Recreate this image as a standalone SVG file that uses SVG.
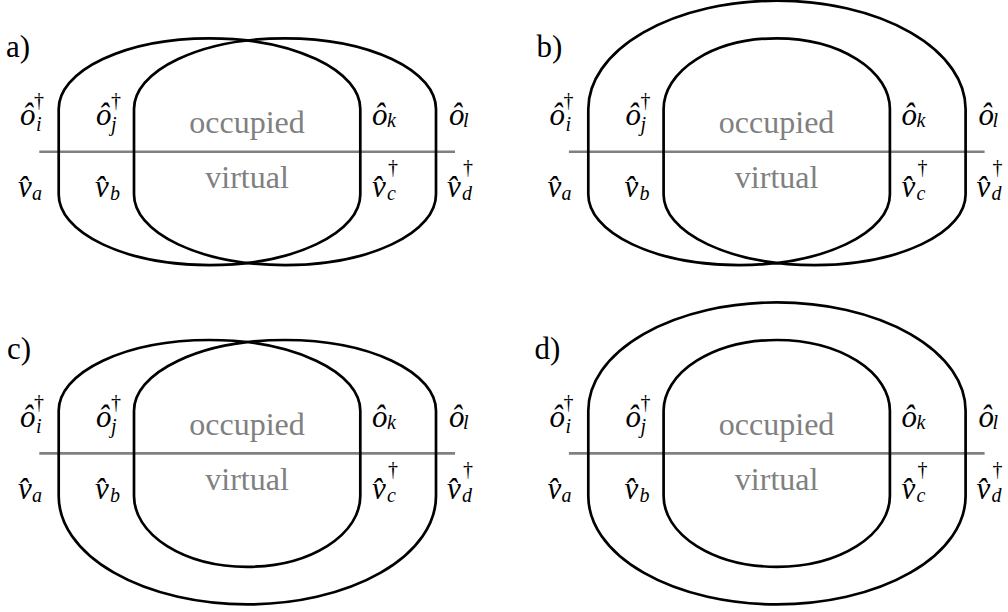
<svg xmlns="http://www.w3.org/2000/svg" width="1008" height="612" viewBox="0 0 1008 612">
<style>
.c{fill:none;stroke:#000;stroke-width:2.7}
.h{fill:none;stroke:#808080;stroke-width:2.6}
.m{font-family:"Liberation Serif","DejaVu Serif",serif;font-style:italic;font-size:31px;fill:#000}
.sb{font-size:20px}
.dg{font-style:normal;font-size:20px}
.g{font-family:"Liberation Serif","DejaVu Serif",serif;font-size:32px;fill:#808080;text-anchor:middle}
.p{font-family:"Liberation Serif","DejaVu Serif",serif;font-size:31px;fill:#000}
</style>
<rect width="1008" height="612" fill="#fff"/>
<g id="panel-a">
<text class="p" x="6" y="57">a)</text>
<g id="a-lines" class="connectors">
<line class="h" x1="39.3" y1="151.7" x2="455" y2="151.7"/>
<path class="c" d="M58.7,109 A150.8,70.7 0 0 1 360.3,109 L360.3,194.4 A150.8,70.7 0 0 1 58.7,194.4 Z"/>
<path class="c" d="M134,109 A151,70.7 0 0 1 436,109 L436,194.4 A151,70.7 0 0 1 134,194.4 Z"/>
</g>
<g id="a-labels">
<text class="g" x="247" y="133">occupied</text>
<text class="g" x="247" y="188">virtual</text>
<text class="m" x="20" y="125">ô<tspan class="dg" x="34" y="107">†</tspan><tspan class="sb" x="36" y="131">i</tspan></text>
<text class="m" x="96" y="125">ô<tspan class="dg" x="111" y="107">†</tspan><tspan class="sb" x="111" y="131">j</tspan></text>
<text class="m" x="372" y="125">ô<tspan class="sb" x="387" y="127">k</tspan></text>
<text class="m" x="449" y="125">ô<tspan class="sb" x="463" y="127">l</tspan></text>
<text class="m" x="18" y="197">v̂<tspan class="sb" x="32" y="200">a</tspan></text>
<text class="m" x="95" y="197">v̂<tspan class="sb" x="110" y="200">b</tspan></text>
<text class="m" x="372" y="197">v̂<tspan class="dg" x="388" y="174">†</tspan><tspan class="sb" x="387" y="200">c</tspan></text>
<text class="m" x="447" y="197">v̂<tspan class="dg" x="463" y="174">†</tspan><tspan class="sb" x="462" y="200">d</tspan></text>
</g>
</g>
<g id="panel-b" transform="translate(529.6,0)">
<text class="p" x="7" y="57">b)</text>
<g id="b-lines" class="connectors">
<line class="h" x1="39.3" y1="151.7" x2="455" y2="151.7"/>
<path class="c" d="M58.7,109 A188.65,108.3 0 0 1 436,109 L436,194.4 A151,70.7 0 0 1 134,194.4 L134,109 A113.15,70.7 0 0 1 360.3,109 L360.3,194.4 A150.8,70.7 0 0 1 58.7,194.4 Z"/>
</g>
<g id="b-labels">
<text class="g" x="247" y="133">occupied</text>
<text class="g" x="247" y="188">virtual</text>
<text class="m" x="20" y="125">ô<tspan class="dg" x="34" y="107">†</tspan><tspan class="sb" x="36" y="131">i</tspan></text>
<text class="m" x="96" y="125">ô<tspan class="dg" x="111" y="107">†</tspan><tspan class="sb" x="111" y="131">j</tspan></text>
<text class="m" x="372" y="125">ô<tspan class="sb" x="387" y="127">k</tspan></text>
<text class="m" x="449" y="125">ô<tspan class="sb" x="463" y="127">l</tspan></text>
<text class="m" x="18" y="197">v̂<tspan class="sb" x="32" y="200">a</tspan></text>
<text class="m" x="95" y="197">v̂<tspan class="sb" x="110" y="200">b</tspan></text>
<text class="m" x="372" y="197">v̂<tspan class="dg" x="388" y="174">†</tspan><tspan class="sb" x="387" y="200">c</tspan></text>
<text class="m" x="447" y="197">v̂<tspan class="dg" x="463" y="174">†</tspan><tspan class="sb" x="462" y="200">d</tspan></text>
</g>
</g>
<g id="panel-c" transform="translate(0,301.7)">
<text class="p" x="7" y="57">c)</text>
<g id="c-lines" class="connectors">
<line class="h" x1="39.3" y1="151.7" x2="455" y2="151.7"/>
<path class="c" d="M58.7,109 A150.8,70.7 0 0 1 360.3,109 L360.3,194.4 A113.15,70.7 0 0 1 134,194.4 L134,109 A151,70.7 0 0 1 436,109 L436,194.4 A188.65,108.3 0 0 1 58.7,194.4 Z"/>
</g>
<g id="c-labels">
<text class="g" x="247" y="133">occupied</text>
<text class="g" x="247" y="188">virtual</text>
<text class="m" x="20" y="125">ô<tspan class="dg" x="34" y="107">†</tspan><tspan class="sb" x="36" y="131">i</tspan></text>
<text class="m" x="96" y="125">ô<tspan class="dg" x="111" y="107">†</tspan><tspan class="sb" x="111" y="131">j</tspan></text>
<text class="m" x="372" y="125">ô<tspan class="sb" x="387" y="127">k</tspan></text>
<text class="m" x="449" y="125">ô<tspan class="sb" x="463" y="127">l</tspan></text>
<text class="m" x="18" y="197">v̂<tspan class="sb" x="32" y="200">a</tspan></text>
<text class="m" x="95" y="197">v̂<tspan class="sb" x="110" y="200">b</tspan></text>
<text class="m" x="372" y="197">v̂<tspan class="dg" x="388" y="174">†</tspan><tspan class="sb" x="387" y="200">c</tspan></text>
<text class="m" x="447" y="197">v̂<tspan class="dg" x="463" y="174">†</tspan><tspan class="sb" x="462" y="200">d</tspan></text>
</g>
</g>
<g id="panel-d" transform="translate(529.6,301.7)">
<text class="p" x="5" y="57">d)</text>
<g id="d-lines" class="connectors">
<line class="h" x1="39.3" y1="151.7" x2="455" y2="151.7"/>
<path class="c" d="M58.7,109 A188.65,108.3 0 0 1 436,109 L436,194.4 A188.65,108.3 0 0 1 58.7,194.4 Z"/>
<path class="c" d="M134,109 A113.15,70.7 0 0 1 360.3,109 L360.3,194.4 A113.15,70.7 0 0 1 134,194.4 Z"/>
</g>
<g id="d-labels">
<text class="g" x="247" y="133">occupied</text>
<text class="g" x="247" y="188">virtual</text>
<text class="m" x="20" y="125">ô<tspan class="dg" x="34" y="107">†</tspan><tspan class="sb" x="36" y="131">i</tspan></text>
<text class="m" x="96" y="125">ô<tspan class="dg" x="111" y="107">†</tspan><tspan class="sb" x="111" y="131">j</tspan></text>
<text class="m" x="372" y="125">ô<tspan class="sb" x="387" y="127">k</tspan></text>
<text class="m" x="449" y="125">ô<tspan class="sb" x="463" y="127">l</tspan></text>
<text class="m" x="18" y="197">v̂<tspan class="sb" x="32" y="200">a</tspan></text>
<text class="m" x="95" y="197">v̂<tspan class="sb" x="110" y="200">b</tspan></text>
<text class="m" x="372" y="197">v̂<tspan class="dg" x="388" y="174">†</tspan><tspan class="sb" x="387" y="200">c</tspan></text>
<text class="m" x="447" y="197">v̂<tspan class="dg" x="463" y="174">†</tspan><tspan class="sb" x="462" y="200">d</tspan></text>
</g>
</g>
</svg>
